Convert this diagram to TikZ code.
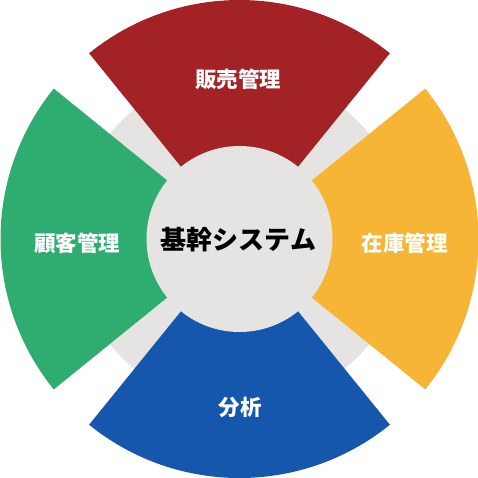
\documentclass[tikz,border=0pt]{standalone}
\usepackage{fontspec}
\newfontfamily\cjk{Noto Sans CJK JP}
\definecolor{cred}{HTML}{A22225}
\definecolor{cyellow}{HTML}{F6B535}
\definecolor{cgreen}{HTML}{2FAC70}
\definecolor{cblue}{HTML}{1457AC}
\definecolor{cgrey}{HTML}{E5E4E3}
\tikzset{
  sectorlabel/.style={text=white, font=\cjk\bfseries\fontsize{21.5}{24}\selectfont, inner sep=0pt},
  centerlabel/.style={text=black, font=\cjk\bfseries\fontsize{26}{30}\selectfont, inner sep=0pt}
}
\begin{document}
\begin{tikzpicture}[x=1pt,y=1pt]
\useasboundingbox (-239.5,-238) rectangle (238.5,239);
\fill[cgrey] (0,0) circle[radius=167];
\fill[cred] (0,0) -- (51:239) arc[start angle=51, end angle=129, radius=239] -- cycle;
\fill[cgreen] (0,0) -- (141:239) arc[start angle=141, end angle=219, radius=239] -- cycle;
\fill[cblue] (0,0) -- (231:239) arc[start angle=231, end angle=309, radius=239] -- cycle;
\fill[cyellow] (0,0) -- (-39:239) arc[start angle=-39, end angle=39, radius=239] -- cycle;
\node[circle, fill=cgrey, minimum size=186, inner sep=0pt] (core) at (0,0) {};
\node[centerlabel] (coret) at (-1,-1) {基幹システム};
\node[sectorlabel] (sales) at (-1.5,160) {販売管理};
\node[sectorlabel] (cust) at (-162,-4) {顧客管理};
\node[sectorlabel] (stock) at (165,-4) {在庫管理};
\node[sectorlabel] (anal) at (0.5,-168) {分析};
\end{tikzpicture}
\end{document}
